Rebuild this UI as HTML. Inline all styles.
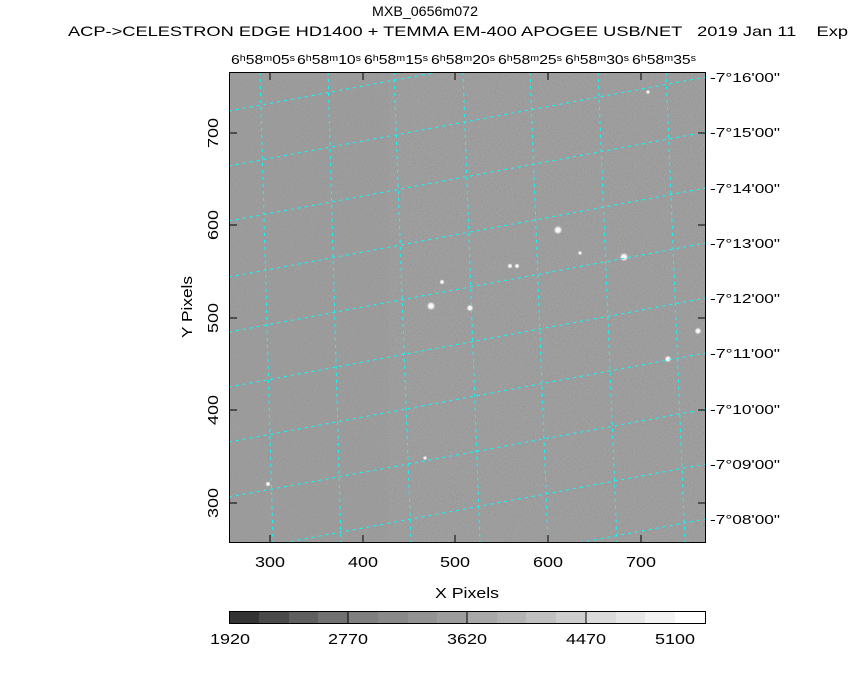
<!DOCTYPE html>
<html><head><meta charset="utf-8"><style>
body{margin:0;background:#fff;}
svg text{font-family:"Liberation Sans",sans-serif;fill:#000;}
</style></head><body>
<svg width="850" height="680" xmlns="http://www.w3.org/2000/svg">
<defs>
<filter id="n" x="0" y="0" width="100%" height="100%">
<feTurbulence type="fractalNoise" baseFrequency="0.9" numOctaves="1" seed="3" result="t"/>
<feColorMatrix type="matrix" values="0 0 0 0 0.6  0 0 0 0 0.6  0 0 0 0 0.6  0.45 0 0 0 -0.08" in="t" result="c"/>
<feComposite in="c" in2="SourceGraphic" operator="over"/>
</filter>
<clipPath id="cp"><rect x="229" y="72" width="477" height="471"/></clipPath>
<radialGradient id="st"><stop offset="0" stop-color="#fff"/><stop offset="0.5" stop-color="#eee"/><stop offset="1" stop-color="#999" stop-opacity="0"/></radialGradient>
</defs>
<text x="425" y="16" font-size="14" text-anchor="middle" textLength="106" lengthAdjust="spacingAndGlyphs">MXB_0656m072</text>
<text x="68" y="36" font-size="14" xml:space="preserve" textLength="780" lengthAdjust="spacingAndGlyphs">ACP-&gt;CELESTRON EDGE HD1400 + TEMMA EM-400 APOGEE USB/NET   2019 Jan 11    Exp</text>
<rect x="229" y="72" width="477" height="471" fill="#939393" filter="url(#n)"/>
<g clip-path="url(#cp)">
<rect x="229" y="72" width="160" height="471" fill="#999" opacity="0.25"/>
<g fill="url(#st)">
<circle cx="558" cy="230" r="5"/><circle cx="431" cy="306" r="5"/><circle cx="470" cy="308" r="4"/>
<circle cx="624" cy="257" r="5"/><circle cx="668" cy="359" r="4"/><circle cx="698" cy="331" r="4"/>
<circle cx="442" cy="282" r="3"/><circle cx="510" cy="266" r="3"/><circle cx="517" cy="266" r="3"/>
<circle cx="268" cy="484" r="3"/><circle cx="425" cy="458" r="2.5"/><circle cx="580" cy="253" r="2.5"/><circle cx="648" cy="92" r="2.5"/>
</g>
<g stroke="#00ffff" stroke-width="1" stroke-dasharray="3 4" fill="none">
<line x1="260" y1="72" x2="273" y2="543"/><line x1="328" y1="72" x2="341" y2="543"/>
<line x1="394" y1="72" x2="411" y2="543"/><line x1="463" y1="72" x2="480" y2="543"/>
<line x1="530" y1="72" x2="548" y2="543"/><line x1="598" y1="72" x2="617" y2="543"/>
<line x1="666" y1="72" x2="685" y2="543"/>
<line x1="229" y1="56" x2="706" y2="-33"/><line x1="229" y1="111" x2="706" y2="22"/>
<line x1="229" y1="166" x2="706" y2="77"/><line x1="229" y1="221" x2="706" y2="132"/>
<line x1="229" y1="277" x2="706" y2="188"/><line x1="229" y1="332" x2="706" y2="243"/>
<line x1="229" y1="387" x2="706" y2="298"/><line x1="229" y1="442" x2="706" y2="353"/>
<line x1="229" y1="497" x2="706" y2="409"/><line x1="229" y1="553" x2="706" y2="464"/>
<line x1="229" y1="608" x2="706" y2="519"/><line x1="229" y1="663" x2="706" y2="574"/>
</g>
</g>
<rect x="229.5" y="72.5" width="476" height="470" fill="none" stroke="#000"/>
<g stroke="#000">
<line x1="270" y1="543" x2="270" y2="535"/><line x1="363" y1="543" x2="363" y2="535"/><line x1="455" y1="543" x2="455" y2="535"/><line x1="548" y1="543" x2="548" y2="535"/><line x1="641" y1="543" x2="641" y2="535"/>
<line x1="270" y1="72" x2="270" y2="80"/><line x1="363" y1="72" x2="363" y2="80"/><line x1="455" y1="72" x2="455" y2="80"/><line x1="548" y1="72" x2="548" y2="80"/><line x1="641" y1="72" x2="641" y2="80"/>
<line x1="229" y1="133" x2="237" y2="133"/><line x1="229" y1="225" x2="237" y2="225"/><line x1="229" y1="318" x2="237" y2="318"/><line x1="229" y1="410" x2="237" y2="410"/><line x1="229" y1="503" x2="237" y2="503"/>
<line x1="706" y1="133" x2="698" y2="133"/><line x1="706" y1="225" x2="698" y2="225"/><line x1="706" y1="318" x2="698" y2="318"/><line x1="706" y1="410" x2="698" y2="410"/><line x1="706" y1="503" x2="698" y2="503"/>
</g>
<g font-size="15" text-anchor="middle">
<text x="270" y="567" textLength="30" lengthAdjust="spacingAndGlyphs">300</text><text x="363" y="567" textLength="30" lengthAdjust="spacingAndGlyphs">400</text><text x="455" y="567" textLength="30" lengthAdjust="spacingAndGlyphs">500</text><text x="548" y="567" textLength="30" lengthAdjust="spacingAndGlyphs">600</text><text x="641" y="567" textLength="30" lengthAdjust="spacingAndGlyphs">700</text>
<text x="467" y="598" textLength="64" lengthAdjust="spacingAndGlyphs">X Pixels</text>
<text transform="translate(218,133) rotate(-90)" textLength="30" lengthAdjust="spacingAndGlyphs">700</text>
<text transform="translate(218,225) rotate(-90)" textLength="30" lengthAdjust="spacingAndGlyphs">600</text>
<text transform="translate(218,318) rotate(-90)" textLength="30" lengthAdjust="spacingAndGlyphs">500</text>
<text transform="translate(218,410) rotate(-90)" textLength="30" lengthAdjust="spacingAndGlyphs">400</text>
<text transform="translate(218,503) rotate(-90)" textLength="30" lengthAdjust="spacingAndGlyphs">300</text>
<text transform="translate(192,307) rotate(-90)" textLength="62" lengthAdjust="spacingAndGlyphs">Y Pixels</text>
</g>
<g font-size="13" text-anchor="middle">
<text x="263" y="64" textLength="64" lengthAdjust="spacingAndGlyphs">6ʰ58ᵐ05ˢ</text><text x="329" y="64" textLength="64" lengthAdjust="spacingAndGlyphs">6ʰ58ᵐ10ˢ</text><text x="396" y="64" textLength="64" lengthAdjust="spacingAndGlyphs">6ʰ58ᵐ15ˢ</text><text x="463" y="64" textLength="64" lengthAdjust="spacingAndGlyphs">6ʰ58ᵐ20ˢ</text><text x="530" y="64" textLength="64" lengthAdjust="spacingAndGlyphs">6ʰ58ᵐ25ˢ</text><text x="597" y="64" textLength="64" lengthAdjust="spacingAndGlyphs">6ʰ58ᵐ30ˢ</text><text x="664" y="64" textLength="64" lengthAdjust="spacingAndGlyphs">6ʰ58ᵐ35ˢ</text>
</g>
<g font-size="13">
<text x="710" y="82" textLength="70" lengthAdjust="spacingAndGlyphs">-7°16'00"</text><text x="710" y="137" textLength="70" lengthAdjust="spacingAndGlyphs">-7°15'00"</text><text x="710" y="193" textLength="70" lengthAdjust="spacingAndGlyphs">-7°14'00"</text><text x="710" y="248" textLength="70" lengthAdjust="spacingAndGlyphs">-7°13'00"</text><text x="710" y="303" textLength="70" lengthAdjust="spacingAndGlyphs">-7°12'00"</text><text x="710" y="358" textLength="70" lengthAdjust="spacingAndGlyphs">-7°11'00"</text><text x="710" y="414" textLength="70" lengthAdjust="spacingAndGlyphs">-7°10'00"</text><text x="710" y="469" textLength="70" lengthAdjust="spacingAndGlyphs">-7°09'00"</text><text x="710" y="524" textLength="70" lengthAdjust="spacingAndGlyphs">-7°08'00"</text>
</g>
<g>
<rect x="229" y="611" width="30" height="12" fill="#333"/><rect x="259" y="611" width="30" height="12" fill="#4a4a4a"/><rect x="289" y="611" width="29" height="12" fill="#5f5f5f"/><rect x="318" y="611" width="30" height="12" fill="#717171"/>
<rect x="348" y="611" width="30" height="12" fill="#7f7f7f"/><rect x="378" y="611" width="30" height="12" fill="#898989"/><rect x="408" y="611" width="29" height="12" fill="#939393"/><rect x="437" y="611" width="30" height="12" fill="#9d9d9d"/>
<rect x="467" y="611" width="30" height="12" fill="#a8a8a8"/><rect x="497" y="611" width="29" height="12" fill="#b3b3b3"/><rect x="526" y="611" width="30" height="12" fill="#c0c0c0"/><rect x="556" y="611" width="30" height="12" fill="#cdcdcd"/>
<rect x="586" y="611" width="30" height="12" fill="#dadada"/><rect x="616" y="611" width="29" height="12" fill="#e6e6e6"/><rect x="645" y="611" width="30" height="12" fill="#f3f3f3"/><rect x="675" y="611" width="31" height="12" fill="#fff"/>
<rect x="229.5" y="611.5" width="476" height="12" fill="none" stroke="#000"/>
<g stroke="#000"><line x1="348" y1="611" x2="348" y2="623"/><line x1="467" y1="611" x2="467" y2="623"/><line x1="586" y1="611" x2="586" y2="623"/></g>
</g>
<g font-size="15" text-anchor="middle">
<text x="230" y="644" textLength="40" lengthAdjust="spacingAndGlyphs">1920</text><text x="348" y="644" textLength="40" lengthAdjust="spacingAndGlyphs">2770</text><text x="467" y="644" textLength="40" lengthAdjust="spacingAndGlyphs">3620</text><text x="586" y="644" textLength="40" lengthAdjust="spacingAndGlyphs">4470</text><text x="675" y="644" textLength="40" lengthAdjust="spacingAndGlyphs">5100</text>
</g>
</svg>
</body></html>
